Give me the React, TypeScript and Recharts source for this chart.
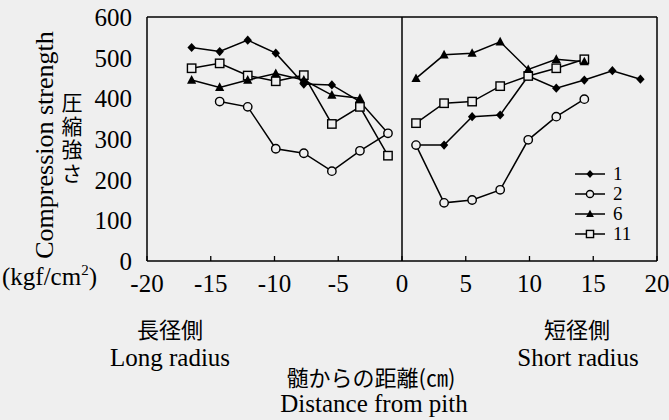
import React from 'react';
import { LineChart, Line, XAxis, YAxis, ReferenceLine, Legend } from 'recharts';

// Distances from pith (cm)
const xLeft = [-16.5, -14.3, -12.1, -9.9, -7.7, -5.5, -3.3, -1.1];
const xRight = [1.1, 3.3, 5.5, 7.7, 9.9, 12.1, 14.3, 16.5, 18.7];

// Compression strength (kgf/cm2) per specimen
const s1Left = [525, 515, 543, 511, 435, 433, 392, 314];
const s1Right = [285, 285, 355, 359, 455, 425, 445, 468, 447];
const s2Left = [null, 392, 379, 276, 265, 221, 271, 314];
const s2Right = [285, 143, 150, 175, 298, 355, 398, null, null];
const s6Left = [445, 427, 445, 461, 445, 408, 400, null];
const s6Right = [449, 507, 511, 539, 471, 496, 490, null, null];
const s11Left = [474, 486, 456, 442, 457, 337, 379, 259];
const s11Right = [339, 388, 392, 430, 455, 474, 496, null, null];

const seriesNames = ['1', '2', '6', '11'];
const xTicks = [-20, -15, -10, -5, 0, 5, 10, 15, 20];
const yTicks = [0, 100, 200, 300, 400, 500, 600];

const rows = [
  ...xLeft.map((x, i) => ({ x, s1: s1Left[i], s2: s2Left[i], s6: s6Left[i], s11: s11Left[i] })),
  { x: 0, s1: null, s2: null, s6: null, s11: null },
  ...xRight.map((x, i) => ({ x, s1: s1Right[i], s2: s2Right[i], s6: s6Right[i], s11: s11Right[i] })),
];

const BG = '#efefef';
const FONT = "'Liberation Serif', 'Times New Roman', Times, serif";
const JFONT = "'Noto Sans CJK JP', sans-serif";

type Shape = 'diamond' | 'circle' | 'triangle' | 'square';

const series: { key: string; name: string; shape: Shape }[] = [
  { key: 's1', name: seriesNames[0], shape: 'diamond' },
  { key: 's2', name: seriesNames[1], shape: 'circle' },
  { key: 's6', name: seriesNames[2], shape: 'triangle' },
  { key: 's11', name: seriesNames[3], shape: 'square' },
];

function Marker({ shape, cx, cy, s = 1 }: { shape: Shape; cx: number; cy: number; s?: number }) {
  switch (shape) {
    case 'diamond':
      return (
        <polygon
          points={`${cx},${cy - 4.6 * s} ${cx + 4.2 * s},${cy} ${cx},${cy + 4.6 * s} ${cx - 4.2 * s},${cy}`}
          fill="#000"
        />
      );
    case 'circle':
      return <circle cx={cx} cy={cy} r={4.2 * s} fill={BG} stroke="#000" strokeWidth={1.4} />;
    case 'triangle':
      return (
        <polygon
          points={`${cx},${cy - 5 * s} ${cx + 4.6 * s},${cy + 3.6 * s} ${cx - 4.6 * s},${cy + 3.6 * s}`}
          fill="#000"
        />
      );
    default:
      return (
        <rect x={cx - 4.2 * s} y={cy - 4.2 * s} width={8.4 * s} height={8.4 * s} fill={BG} stroke="#000" strokeWidth={1.4} />
      );
  }
}

const makeDot = (shape: Shape, key: string) => (p: any) => {
  const k = `${key}-${p.index}`;
  if (p.cy == null || p.cx == null || p.value == null) return <g key={k} />;
  return (
    <g key={k}>
      <Marker shape={shape} cx={p.cx} cy={p.cy} />
    </g>
  );
};

function LegendBox() {
  return (
    <div style={{ fontFamily: FONT, color: '#000' }}>
      {series.map((s) => (
        <div key={s.key} style={{ display: 'flex', alignItems: 'center', height: 20 }}>
          <svg width={34} height={20} style={{ display: 'block' }}>
            <line x1={2} y1={10} x2={32} y2={10} stroke="#000" strokeWidth={1.5} />
            <Marker shape={s.shape} cx={17} cy={10} s={0.85} />
          </svg>
          <span style={{ fontSize: 19, marginLeft: 6, lineHeight: '20px', fontFamily: FONT }}>{s.name}</span>
        </div>
      ))}
    </div>
  );
}

const emptyTick = () => <g />;

export default function App() {
  const tickStyle = { fontSize: 25, fill: '#000', fontFamily: FONT, style: { fontFamily: FONT } };
  const serif = { fontFamily: FONT };
  const jp = { fontFamily: JFONT };
  return (
    <div style={{ position: 'absolute', left: 0, top: 0, width: 669, height: 420, background: BG, fontFamily: FONT }}>
      <LineChart
        width={669}
        height={420}
        data={rows}
        margin={{ top: 17, right: 12, left: 87, bottom: 119 }}
        style={serif}
      >
        <XAxis
          dataKey="x"
          type="number"
          domain={[-20, 20]}
          ticks={xTicks}
          interval={0}
          tickLine={false}
          tickSize={0}
          tickMargin={13}
          height={40}
          axisLine={{ stroke: '#000', strokeWidth: 1.5 }}
          tick={tickStyle}
        />
        <XAxis
          xAxisId="m"
          dataKey="x"
          type="number"
          domain={[-20, 20]}
          ticks={xTicks}
          interval={0}
          mirror
          tickSize={5}
          tickLine={{ stroke: '#000', strokeWidth: 1.3 }}
          axisLine={false}
          tick={emptyTick}
        />
        <YAxis
          type="number"
          domain={[0, 600]}
          ticks={yTicks}
          interval={0}
          tickLine={false}
          tickSize={0}
          tickMargin={15}
          width={60}
          axisLine={{ stroke: '#000', strokeWidth: 1.5 }}
          tick={tickStyle}
        />
        <YAxis
          yAxisId="m"
          type="number"
          domain={[0, 600]}
          ticks={yTicks}
          interval={0}
          mirror
          tickSize={5}
          tickLine={{ stroke: '#000', strokeWidth: 1.3 }}
          axisLine={false}
          tick={emptyTick}
        />
        <ReferenceLine x={0} stroke="#000" strokeWidth={1.5} />
        <ReferenceLine x={20} stroke="#000" strokeWidth={1.5} />
        <ReferenceLine y={600} stroke="#000" strokeWidth={1.5} />
        <Legend
          layout="vertical"
          align="center"
          verticalAlign="middle"
          wrapperStyle={{ position: 'absolute', left: 573, top: 164, width: 80, height: 84 }}
          content={() => <LegendBox />}
        />
        {['s1', 's11', 's6', 's2'].map((k) => {
          const s = series.find((e) => e.key === k)!;
          return (
            <Line
              key={k}
              dataKey={k}
              name={s.name}
              stroke="#000"
              strokeWidth={1.5}
              isAnimationActive={false}
              dot={makeDot(s.shape, k)}
              activeDot={false}
              connectNulls={false}
            />
          );
        })}
      </LineChart>
      <svg
        width={669}
        height={420}
        style={{ position: 'absolute', left: 0, top: 0, pointerEvents: 'none' }}
      >
        <text
          x={53}
          y={145}
          transform="rotate(-90 53 145)"
          textAnchor="middle"
          fontSize={26}
          style={serif}
          fill="#000"
        >
          Compression strength
        </text>
        <text
          x={72}
          y={92}
          fontSize={21}
          style={{ ...jp, writingMode: 'vertical-rl', letterSpacing: 2.5 } as any}
          fill="#000"
        >
          圧縮強さ
        </text>
        <text x={2} y={285} fontSize={25} style={serif} fill="#000">
          (kgf/cm<tspan fontSize={15} dy={-10}>2</tspan>
          <tspan dy={10}>)</tspan>
        </text>
        <text x={170} y={328} textAnchor="middle" dominantBaseline="central" fontSize={22} style={jp} fill="#000">
          長径側
        </text>
        <text x={170} y={366} textAnchor="middle" fontSize={25} style={serif} fill="#000">
          Long radius
        </text>
        <text x={577} y={328} textAnchor="middle" dominantBaseline="central" fontSize={22} style={jp} fill="#000">
          短径側
        </text>
        <text x={578} y={366} textAnchor="middle" fontSize={25} style={serif} fill="#000">
          Short radius
        </text>
        <text x={371} y={376} textAnchor="middle" dominantBaseline="central" fontSize={22} style={jp} fill="#000">
          髄からの距離(㎝)
        </text>
        <text x={374} y={412} textAnchor="middle" fontSize={25} style={serif} fill="#000">
          Distance from pith
        </text>
      </svg>
    </div>
  );
}
